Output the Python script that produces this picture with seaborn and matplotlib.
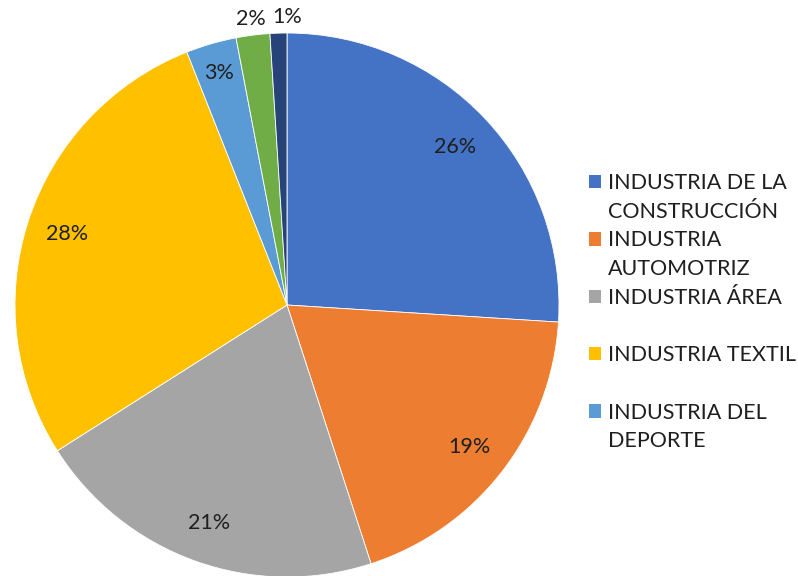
import numpy as np
import seaborn as sns
from matplotlib import pyplot as plt
from matplotlib.patches import Patch

sectores = ["INDUSTRIA DE LA\nCONSTRUCCIÓN", "INDUSTRIA\nAUTOMOTRIZ", "INDUSTRIA ÁREA",
            "INDUSTRIA TEXTIL", "INDUSTRIA DEL\nDEPORTE", "OTRA", "OTRAS"]
porcentajes = [26, 19, 21, 28, 3, 2, 1]
colores = ["#4472C4", "#ED7D31", "#A5A5A5", "#FFC000", "#5B9BD5", "#70AD47", "#264478"]

sns.set_theme(style="white")
plt.rcParams["font.family"] = ["Lato", "DejaVu Sans"]

fig = plt.figure(figsize=(7.98, 5.76), dpi=100)
# eje del pie colocado a mano para que el circulo quede donde en la imagen
ax = fig.add_axes([15 / 798, -1 / 576, 544 / 798, 544 / 576])

wedges, textos, pcts = ax.pie(porcentajes, colors=sns.color_palette(colores), startangle=90,
                              counterclock=False, autopct="%1.0f%%", pctdistance=0.85,
                              wedgeprops={"edgecolor": "white", "linewidth": 0.6},
                              textprops={"fontsize": 15.5, "color": "#1f1f1f"})
ax.set_aspect("equal")
ax.set_xlim(-1, 1)
ax.set_ylim(-1, 1)

# los porcentajes pequeños van fuera
distancias = [0.85, 0.85, 0.85, 0.85, 0.89, 1.06, 1.06]
for w, t, d in zip(wedges, pcts, distancias):
    ang = np.deg2rad((w.theta1 + w.theta2) / 2)
    t.set_position((d * np.cos(ang), d * np.sin(ang)))
pcts[6].set_position((0, 1.06))

# leyenda linea por linea (solo se ven las primeras 5 categorias)
handles, labels = [], []
for nombre, c in zip(sectores[:5], colores[:5]):
    lineas = nombre.split("\n")
    if len(lineas) == 1:
        lineas.append("")
    for i, l in enumerate(lineas):
        handles.append(Patch(facecolor=c if i == 0 else "none", edgecolor="none"))
        labels.append(l)

fig.legend(handles, labels, loc="upper left", bbox_to_anchor=(589 / 798, 1 - 173 / 576),
           frameon=False, fontsize=15.5, handlelength=0.58, handleheight=0.58,
           handletextpad=0.3, labelspacing=0.405, borderpad=0, borderaxespad=0,
           labelcolor="#1f1f1f")

plt.savefig("out.png", dpi=100)
